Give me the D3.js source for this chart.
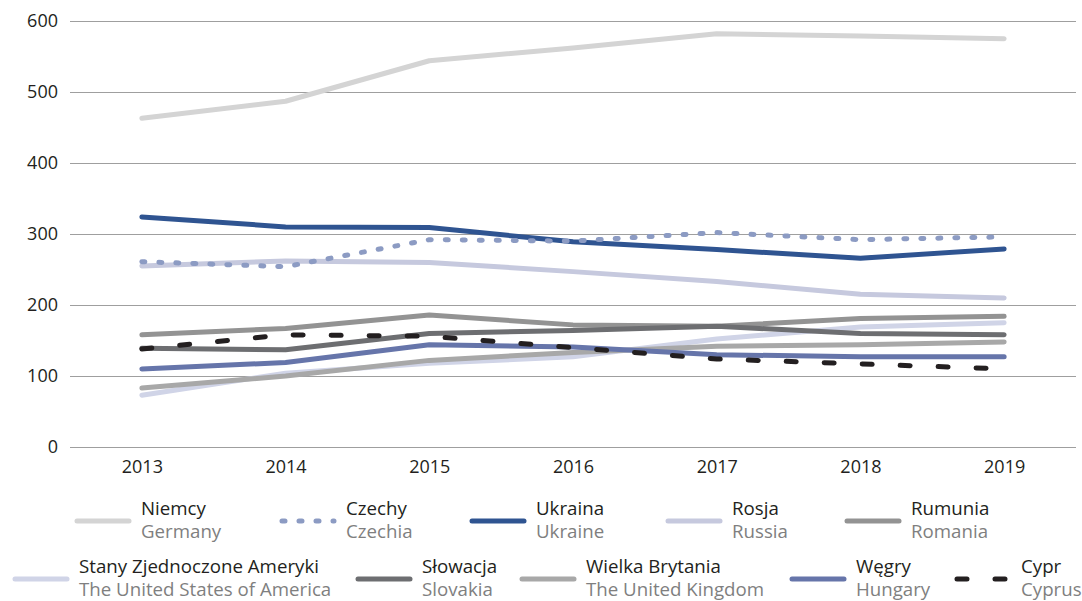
<!DOCTYPE html>
<html>
<head>
<meta charset="utf-8">
<script src="https://cdn.jsdelivr.net/npm/d3@7"></script>
<style>
  body { margin: 0; background: #fff; }
  text { font-family: "Open Sans", sans-serif; }
</style>
</head>
<body>
<div id="chart"></div>
<script>
// Data
const years = [2013, 2014, 2015, 2016, 2017, 2018, 2019];
const yTicks = [0, 100, 200, 300, 400, 500, 600];

const niemcy   = [463, 487, 544, 562, 582, 579, 575];
const czechy   = [261, 254, 292, 290, 302, 292, 296];
const ukraina  = [324, 310, 309, 289, 278, 266, 279];
const rosja    = [255, 262, 260, 247, 233, 215, 210];
const rumunia  = [158, 167, 186, 172, 170, 181, 184];
const usa      = [73, 104, 118, 127, 152, 169, 175];
const slowacja = [139, 137, 160, 164, 170, 160, 158];
const uk       = [83, 100, 122, 133, 142, 144, 148];
const wegry    = [110, 119, 144, 141, 130, 127, 127];
const cypr     = [138, 158, 156, 140, 124, 117, 110];

const series = [
    { pl: "Niemcy", en: "Germany", values: niemcy, color: "#d4d4d4" },
    { pl: "Czechy", en: "Czechia", values: czechy, color: "#8c9bc3", dash: "3,14" },
    { pl: "Ukraina", en: "Ukraine", values: ukraina, color: "#2f5491" },
    { pl: "Rosja", en: "Russia", values: rosja, color: "#c6c9de" },
    { pl: "Rumunia", en: "Romania", values: rumunia, color: "#939393" },
    { pl: "Stany Zjednoczone Ameryki", en: "The United States of America", values: usa, color: "#d0d4e7" },
    { pl: "Słowacja", en: "Slovakia", values: slowacja, color: "#6d6e71" },
    { pl: "Wielka Brytania", en: "The United Kingdom", values: uk, color: "#a8a8a8" },
    { pl: "Węgry", en: "Hungary", values: wegry, color: "#6675aa" },
    { pl: "Cypr", en: "Cyprus", values: cypr, color: "#231f20", dash: "10,28" }
];

// drawing order (dotted Czechy sits above Ukraina and Rosja)
const drawOrder = ["Niemcy", "Ukraina", "Rosja", "Czechy", "Rumunia",
    "Stany Zjednoczone Ameryki", "Słowacja", "Wielka Brytania", "Węgry", "Cypr"];

// legend slots: swatch start x, row
const legendSlots = [
    { x: 75, row: 0 }, { x: 280, row: 0 }, { x: 470, row: 0 }, { x: 666, row: 0 }, { x: 845, row: 0 },
    { x: 13, row: 1 }, { x: 356, row: 1 }, { x: 520, row: 1 }, { x: 790, row: 1 }, { x: 955, row: 1 }
];

const width = 1082, height = 601;

const svg = d3.select("#chart")
    .append("svg")
    .attr("width", width)
    .attr("height", height);

const xScale = d3.scalePoint()
    .domain(years)
    .range([70, 1076])
    .padding(0.5);

const yScale = d3.scaleLinear()
    .domain([0, 600])
    .range([447, 21]);

// gridlines + y labels
const yAxis = svg.append("g")
    .attr("transform", "translate(70,0)")
    .call(d3.axisLeft(yScale).tickValues(yTicks).tickSize(-1006).tickPadding(12));
yAxis.select(".domain").remove();
yAxis.selectAll(".tick line").attr("stroke", "#9f9f9f").attr("stroke-width", 1.2);
yAxis.selectAll(".tick text")
    .style("font-size", "18px")
    .attr("fill", "#231f20")
    .style("font-family", "'Open Sans', sans-serif");

// x labels
const xAxis = svg.append("g")
    .attr("transform", "translate(0,447)")
    .call(d3.axisBottom(xScale).tickSize(0).tickPadding(13));
xAxis.select(".domain").remove();
xAxis.selectAll(".tick text")
    .style("font-size", "18px")
    .attr("fill", "#231f20")
    .style("font-family", "'Open Sans', sans-serif");

const line = d3.line()
    .x((d, i) => xScale(years[i]))
    .y(d => yScale(d));

drawOrder.forEach(name => {
    const s = series.find(d => d.pl === name);
    svg.append("path")
        .datum(s.values)
        .attr("fill", "none")
        .attr("stroke", s.color)
        .attr("stroke-width", 5)
        .attr("stroke-linecap", "round")
        .attr("stroke-linejoin", "round")
        .attr("stroke-dasharray", s.dash || null)
        .attr("d", line);
});

// legend
const rowY = [521, 579];
series.forEach((s, i) => {
    const slot = legendSlots[i];
    const y = rowY[slot.row];
    const g = svg.append("g");
    g.append("line")
        .attr("x1", slot.x + 2)
        .attr("x2", slot.x + 54)
        .attr("y1", y)
        .attr("y2", y)
        .attr("stroke", s.color)
        .attr("stroke-width", 5)
        .attr("stroke-linecap", "round")
        .attr("stroke-dasharray", s.dash || null);
    g.append("text")
        .attr("x", slot.x + 66)
        .attr("y", y - 6)
        .style("font-size", "18.7px")
        .attr("fill", "#231f20")
        .text(s.pl);
    g.append("text")
        .attr("x", slot.x + 66)
        .attr("y", y + 17)
        .style("font-size", "18.7px")
        .attr("fill", "#7f7f7f")
        .text(s.en);
});
</script>
</body>
</html>
